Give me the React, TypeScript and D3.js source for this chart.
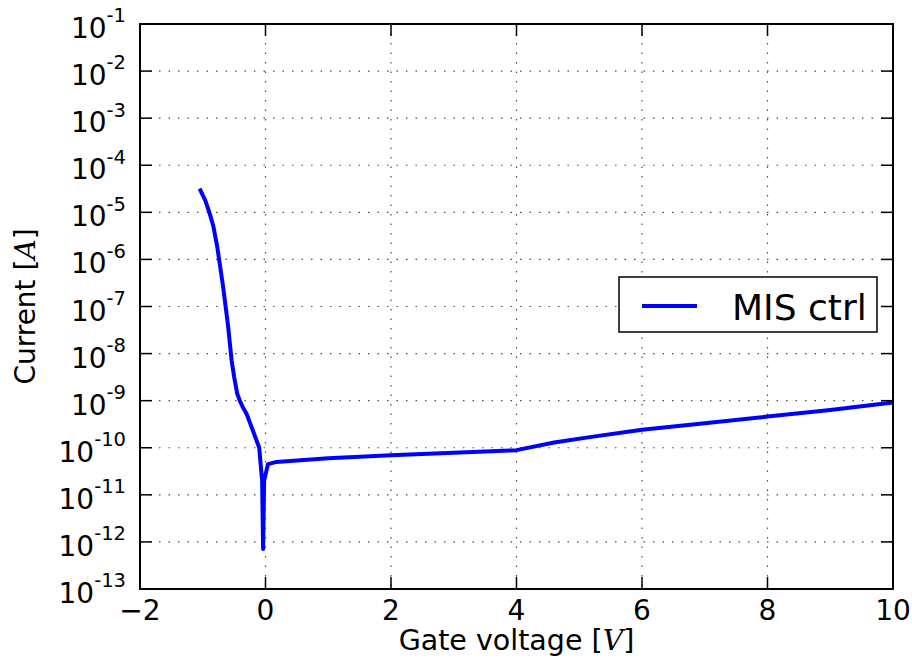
import React from "react";
import * as d3 from "d3";

const voltage = [
  -1.05, -0.96, -0.89, -0.83, -0.77, -0.675, -0.595, -0.54, -0.5, -0.45, -0.41, -0.36, -0.3, -0.2, -0.1,
  -0.054, -0.038, -0.022, 0.04, 0.175, 1.0, 2.0, 3.0, 4.0, 4.6, 5.14, 6.0, 7.0, 8.0, 9.0, 10.0,
];
const current = [
  3.2e-5, 1.8e-5, 9.5e-6, 5.0e-6, 1.9e-6, 2.6e-7, 3.7e-8, 7.2e-9, 3.2e-9, 1.4e-9, 1.0e-9, 7.2e-10, 5.2e-10,
  2.3e-10, 1.0e-10, 2.0e-11, 7.1e-13, 2.0e-11, 4.5e-11, 5.0e-11, 6.0e-11, 6.9e-11, 7.8e-11, 8.9e-11,
  1.29e-10, 1.66e-10, 2.4e-10, 3.3e-10, 4.6e-10, 6.3e-10, 9.1e-10,
];
const xTicks = [-2, 0, 2, 4, 6, 8, 10];
const yExponents = [-1, -2, -3, -4, -5, -6, -7, -8, -9, -10, -11, -12, -13];
const seriesName = "MIS ctrl";

const W = 912;
const H = 662;
const L = 140;
const R = 893;
const T = 24;
const B = 589;
const FONT = "'DejaVu Sans', sans-serif";

export default function App() {
  const x = d3.scaleLinear().domain([-2, 10]).range([L, R]);
  const y = d3.scaleLog().domain([1e-13, 1e-1]).range([B, T]);
  const pts = voltage.map((v, i) => [v, current[i]] as [number, number]);
  const line = d3
    .line<[number, number]>()
    .x((d) => x(d[0]))
    .y((d) => y(d[1]));
  const tickLen = 12;
  return (
    <svg
      width={W}
      height={H}
      style={{ position: "absolute", left: 0, top: 0, background: "#fff" }}
      fontFamily={FONT}
    >
      <rect x={0} y={0} width={W} height={H} fill="#fff" />
      {/* grid */}
      <g stroke="#222" strokeWidth={1.2} strokeDasharray="1.5,8" opacity={0.8}>
        {xTicks.map((t) => (
          <line key={"gx" + t} x1={x(t)} x2={x(t)} y1={T} y2={B} />
        ))}
        {yExponents.map((e) => (
          <line key={"gy" + e} x1={L} x2={R} y1={y(Math.pow(10, e))} y2={y(Math.pow(10, e))} />
        ))}
      </g>
      {/* data */}
      <path
        d={line(pts) || ""}
        fill="none"
        stroke="#0000ff"
        strokeWidth={4}
        strokeLinejoin="round"
        strokeLinecap="butt"
      />
      {/* ticks */}
      <g stroke="#000" strokeWidth={1.5}>
        {xTicks.map((t) => (
          <g key={"tx" + t}>
            <line x1={x(t)} x2={x(t)} y1={B} y2={B - tickLen} />
            <line x1={x(t)} x2={x(t)} y1={T} y2={T + tickLen} />
          </g>
        ))}
        {yExponents.map((e) => {
          const yy = y(Math.pow(10, e));
          return (
            <g key={"ty" + e}>
              <line x1={L} x2={L + tickLen} y1={yy} y2={yy} />
              <line x1={R} x2={R - tickLen} y1={yy} y2={yy} />
            </g>
          );
        })}
      </g>
      {/* frame */}
      <rect x={L} y={T} width={R - L} height={B - T} fill="none" stroke="#000" strokeWidth={2} />
      {/* x tick labels */}
      {xTicks.map((t) => (
        <text key={"lx" + t} x={x(t)} y={620} textAnchor="middle" fontSize={28} fill="#000">
          {t < 0 ? "\u2212" + Math.abs(t) : String(t)}
        </text>
      ))}
      {/* y tick labels */}
      {yExponents.map((e) => {
        const yy = y(Math.pow(10, e));
        return (
          <text key={"ly" + e} x={126} y={yy + 14} textAnchor="end" fontSize={28} fill="#000">
            10
            <tspan fontSize={19.5} dy={-15.6}>
              {"-" + Math.abs(e)}
            </tspan>
          </text>
        );
      })}
      {/* axis labels */}
      <text x={(L + R) / 2} y={650} textAnchor="middle" fontSize={28.5} fill="#000">
        Gate voltage [<tspan fontFamily="'DejaVu Serif', serif" fontStyle="italic">V</tspan>]
      </text>
      <text
        transform={`translate(35, ${(T + B) / 2}) rotate(-90)`}
        textAnchor="middle"
        fontSize={28}
        fill="#000"
      >
        Current [<tspan fontFamily="'DejaVu Serif', serif" fontStyle="italic">A</tspan>]
      </text>
      {/* legend */}
      <g>
        <rect x={619} y={277} width={258} height={55} fill="#fff" stroke="#000" strokeWidth={1.5} />
        <line x1={642} x2={697} y1={306} y2={306} stroke="#0000ff" strokeWidth={4} />
        <text x={732} y={320} fontSize={36} fill="#000">
          {seriesName}
        </text>
      </g>
    </svg>
  );
}
